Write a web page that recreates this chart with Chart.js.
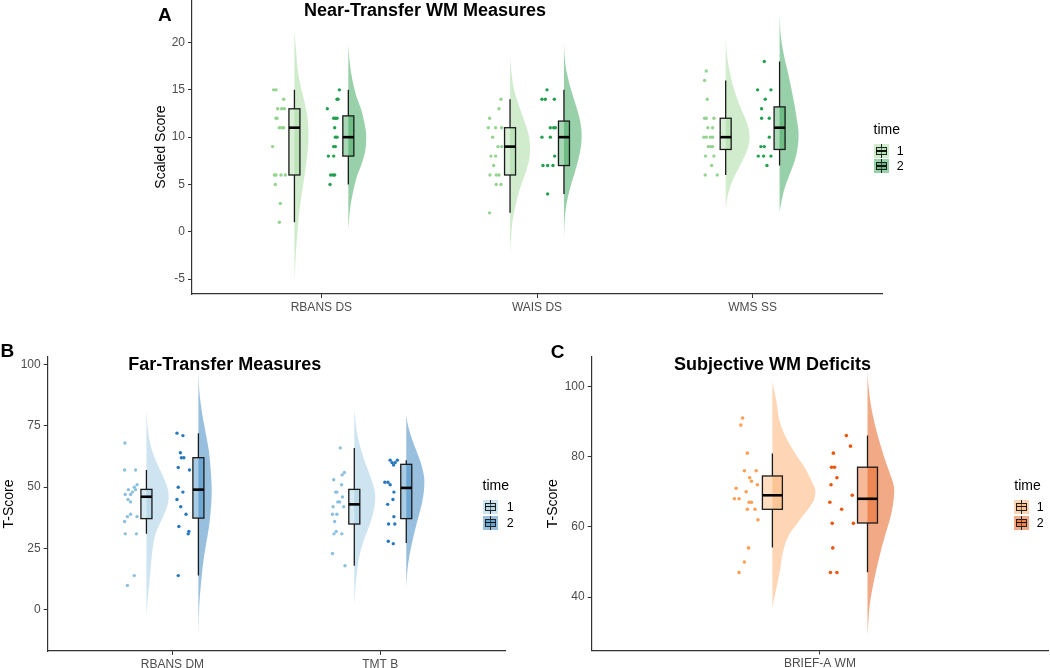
<!DOCTYPE html>
<html><head><meta charset="utf-8">
<script src="https://cdn.jsdelivr.net/npm/chart.js@4.4.1/dist/chart.umd.min.js"></script>
<style>
body{margin:0;width:1050px;height:668px;background:#fff;position:relative;overflow:hidden;font-family:"Liberation Sans",Arial,sans-serif;}
canvas{position:absolute;}
.t{position:absolute;white-space:nowrap;line-height:1;color:#000;}
.b{font-weight:bold;}
.key{position:absolute;width:15px;height:14px;}
.key .w{position:absolute;left:7px;top:0;width:1.2px;height:14px;background:#222;}
.key .bx{position:absolute;left:2px;top:3px;width:9px;height:6px;border:1px solid #222;}
.key .m{position:absolute;left:2px;top:6.3px;width:11px;height:1.5px;background:#111;}
</style></head><body>
<canvas id="cA" width="1050" height="345" style="left:0;top:-20px"></canvas>
<canvas id="cB" width="530" height="340" style="left:0;top:336.7px"></canvas>
<canvas id="cC" width="520" height="340" style="left:530px;top:337.3px"></canvas>
<div id="txt"></div>
<script>
// ---------------- DATA ----------------
const catsA = ['RBANS DS', 'WAIS DS', 'WMS SS'];
const catsB = ['RBANS DM', 'TMT B'];
const catsC = ['BRIEF-A WM'];
const ticksA = [-5, 0, 5, 10, 15, 20];
const ticksB = [0, 25, 50, 75, 100];
const ticksC = [40, 60, 80, 100];
const timeLevels = ['1', '2'];

// raw scores (points) and their horizontal jitter (-1..1)
const a_rbans_1 = [15,15,14,13,13,13,12,12,11,11,11,9,6,6,6,6,5,3,1];
const a_rbans_1j = [-0.85,-0.5,0.65,-0.25,0.35,0.75,-0.5,-0.35,0,0.35,0.65,-1,-0.75,-0.5,0.25,0.9,-0.6,0.15,0];
const a_rbans_2 = [15,14,14,13,12,12,12,11,10,10,9,9,8,8,6,6,6,5];
const a_rbans_2j = [0.95,0.6,0.75,-0.85,0.1,0.35,0.6,0.25,0.35,0.6,0.1,0.35,-0.7,0.1,-0.35,0,0.25,-0.45];
const a_wais_1 = [14,13,12,11,11,11,10,9,9,8,8,7,6,6,6,5,5,2];
const a_wais_1j = [0.9,0.6,-0.8,-1,0.1,1,-0.35,0.45,1,-0.6,0.1,-0.2,-0.75,0.2,0.6,0.2,0.9,-0.8];
const a_wais_2 = [15,14,14,14,11,11,11,10,10,8,7,7,7,4];
const a_wais_2j = [-0.25,-1,-0.5,0.85,0.25,0.75,1,-1,0.25,0.9,-0.85,-0.15,0.65,-0.15];
const a_wms_1 = [17,16,14,12,12,12,11,11,10,10,10,10,9,9,9,8,8,7,6,6];
const a_wms_1j = [-0.65,-0.9,-0.5,-0.9,-0.65,0.5,-0.4,0.3,-1,-0.65,0,0.3,-0.35,0,0.3,-0.75,0.5,0.15,-0.8,1];
const a_wms_2 = [18,15,15,14,13,12,12,10,9,9,8,8,8,7];
const a_wms_2j = [0,-1,1,0.15,-0.4,-0.4,0.75,0.75,-0.5,0,-0.9,-0.1,1,0.4];
const b_rdm_1 = [68,57,57,51,50,49,49,48,47,47,45,44,39,38,38,36,31,31,14,10];
const b_rdm_1j = [-0.95,-1,0.75,1,0.55,-0.4,0.75,0.25,-0.9,-0.05,-0.45,-0.05,-0.05,-0.55,1,-1,-0.9,0.9,0.55,-0.55];
const b_rdm_2 = [72,71,64,62,62,58,57,50,48,45,42,39,34,32,31,14];
const b_rdm_2j = [-1,-0.05,-0.45,-0.3,0.1,-0.8,1,-0.8,-0.05,-1,-0.4,0.45,-0.7,0.9,0.8,-0.8];
const b_tmt_1 = [66,56,55,53,51,48,48,46,44,44,42,42,39,39,36,32,31,31,23,18];
const b_tmt_1j = [0.25,0.9,0.55,-0.8,0.45,-0.5,-0.3,0.6,-0.15,0.15,-0.9,0.8,-1,-0.3,-0.65,-0.4,-0.75,0.5,-1,1];
const b_tmt_2 = [61,61,60,60,59,52,52,51,48,45,43,38,35,35,28,27];
const b_tmt_2j = [-0.15,1,0.15,0.65,0.4,-1,-0.5,-0.15,0.45,0.3,-0.55,0.45,-0.4,0.6,-0.45,0.35];
const c_brief_1 = [91,89,81,76,76,74,73,72,71,70,68,68,67,67,65,65,62,54,50,47];
const c_brief_1j = [-0.3,-0.45,0.1,-0.15,0.85,0.3,0.45,0.95,-0.85,0,-1,-0.6,0.25,0.45,0.1,0.75,1,0.2,-0.15,-0.6];
const c_brief_2 = [86,83,81,77,77,74,72,69,67,65,61,61,54,47,47];
const c_brief_2j = [0.4,0.75,-0.7,-0.85,-0.6,-0.4,-0.9,0.9,-1,0,-0.8,1,-0.75,-0.95,-0.4];

// box stats: [lower whisker, Q1, median, Q3, upper whisker]
const a_rbans_1b = [1, 6, 11, 13, 15];
const a_rbans_2b = [5, 8, 10, 12.25, 15];
const a_wais_1b = [2, 6, 9, 11, 14];
const a_wais_2b = [4, 7, 10, 11.7, 15];
const a_wms_1b = [6, 8.7, 10, 12, 16];
const a_wms_2b = [7, 8.7, 11, 13.2, 18];
const b_rdm_1b = [31, 37.2, 46.1, 49.1, 57];
const b_rdm_2b = [14, 37.4, 49, 62, 72];
const b_tmt_1b = [18, 35, 43, 49.1, 66];
const b_tmt_2b = [27.3, 37.2, 49.7, 59.3, 61];
const c_brief_1b = [54.1, 65, 69, 74.5, 80.9];
const c_brief_2b = [47.1, 61.1, 68, 77, 86];

// half-violin density profiles: score values and relative density
const a_rbans_1vy = [21.1,19.2,17.4,15.7,13.9,12.1,10.4,8.6,6.9,5.1,3.3,1.6,-0.2,-1.9,-3.7,-5.3];
const a_rbans_1vd = [0,0.12,0.21,0.40,0.69,0.93,1,0.95,0.81,0.64,0.45,0.31,0.21,0.12,0.05,0];
const a_rbans_2vy = [19.8,18,16.3,14.5,12.7,11,10,8.6,7.2,5.8,4.1,2.5,1,0.2];
const a_rbans_2vd = [0,0.07,0.2,0.42,0.75,0.95,1,0.95,0.75,0.47,0.25,0.1,0.03,0];
const a_wais_1vy = [18.6,17,15,13.5,12,10.5,9,7.5,6,4.5,3,1.5,0,-1.5,-2.6];
const a_wais_1vd = [0,0.06,0.2,0.42,0.66,0.9,1,0.94,0.74,0.48,0.3,0.15,0.07,0.02,0];
const a_wais_2vy = [20,18,16.5,15,13.5,12,10.5,9,7.5,6,4.5,3,1.5,-1];
const a_wais_2vd = [0,0.06,0.2,0.4,0.65,0.88,1,0.96,0.8,0.57,0.33,0.15,0.05,0];
const a_wms_1vy = [20.6,19,17.5,16,14.5,13,11.5,10,8.5,7,5.5,4,2.4];
const a_wms_1vd = [0,0.04,0.12,0.25,0.42,0.64,0.89,1,0.88,0.6,0.3,0.1,0];
const a_wms_2vy = [22.9,21,19.5,18,16.5,15,13.5,12,10.5,9,7.5,6,4.5,3,2.1];
const a_wms_2vd = [0,0.05,0.15,0.3,0.48,0.63,0.78,0.9,1,0.96,0.8,0.52,0.25,0.08,0];
const b_rdm_1vy = [81.3,75,70,65,60,55,50,46,42,38,34,30,25,20,15,10,5,0,-3.5];
const b_rdm_1vd = [0,0.05,0.12,0.25,0.46,0.72,0.94,1,0.93,0.75,0.54,0.38,0.28,0.22,0.17,0.12,0.06,0.02,0];
const b_rdm_2vy = [96.9,90,85,80,75,70,65,60,55,50,45,40,35,30,25,20,15,10,5,0,-5,-11];
const b_rdm_2vd = [0,0.06,0.15,0.28,0.45,0.62,0.78,0.88,0.95,1,0.98,0.92,0.82,0.68,0.52,0.38,0.27,0.18,0.1,0.05,0.02,0];
const b_tmt_1vy = [82,75,70,65,60,55,50,46,42,38,34,30,25,20,15,10,5,1.9];
const b_tmt_1vd = [0,0.08,0.18,0.33,0.52,0.74,0.93,1,0.96,0.85,0.7,0.52,0.33,0.2,0.12,0.06,0.02,0];
const b_tmt_2vy = [79.2,75,70,65,60,55,52,48,44,40,35,30,25,20,15,8.7];
const b_tmt_2vd = [0,0.1,0.3,0.55,0.8,0.97,1,0.97,0.88,0.75,0.57,0.4,0.25,0.13,0.05,0];
const c_brief_1vy = [101.4,95.3,90.5,85.8,81,76.3,71.5,69.6,66.8,62,57.3,52.5,47.8,43,38.3,36.6];
const c_brief_1vd = [0,0.1,0.16,0.3,0.53,0.78,0.97,1,0.93,0.64,0.37,0.24,0.18,0.1,0.02,0];
const c_brief_2vy = [104.3,100,95,90,85,80,75,71,66,61,56,51,46,41,36,28.8];
const c_brief_2vd = [0,0.04,0.12,0.25,0.42,0.62,0.85,1,0.95,0.8,0.6,0.43,0.28,0.15,0.06,0];

// ---------------- BUILD ----------------
const FONT = '"Liberation Sans", Arial, sans-serif';
Chart.defaults.font.family = FONT;

function rgba(hex, a) {
  const n = parseInt(hex.slice(1), 16);
  return `rgba(${(n >> 16) & 255},${(n >> 8) & 255},${n & 255},${a})`;
}
function grp(cat, t, pts, jit, box, vy, vd, vw) { return { cat, t, pts, jit, box, vy, vd, vw }; }

const panels = [
  { id: 'cA', cats: catsA, ticks: ticksA, yTitle: 'Scaled Score', xmin: 0.4, xmax: 3.6, ymin: -6.58, ymax: 24.5,
    pad: { left: 140, right: 168, top: 20, bottom: 0 }, yw: 52, xh: 31, titlePad: 12.3,
    vOff: 0.125, boxW: 0.051, ptC: [-0.195, 0.054], ptHW: 0.031, ptR: 1.7,
    colV: ['#a1d99b', '#31a354'], colP: ['#93d48e', '#23a04f'],
    groups: [
      grp(1, 0, a_rbans_1, a_rbans_1j, a_rbans_1b, a_rbans_1vy, a_rbans_1vd, 0.065),
      grp(1, 1, a_rbans_2, a_rbans_2j, a_rbans_2b, a_rbans_2vy, a_rbans_2vd, 0.083),
      grp(2, 0, a_wais_1, a_wais_1j, a_wais_1b, a_wais_1vy, a_wais_1vd, 0.093),
      grp(2, 1, a_wais_2, a_wais_2j, a_wais_2b, a_wais_2vy, a_wais_2vd, 0.082),
      grp(3, 0, a_wms_1, a_wms_1j, a_wms_1b, a_wms_1vy, a_wms_1vd, 0.111),
      grp(3, 1, a_wms_2, a_wms_2j, a_wms_2b, a_wms_2vy, a_wms_2vd, 0.088)
    ] },
  { id: 'cB', cats: catsB, ticks: ticksB, yTitle: 'T-Score', xmin: 0.4, xmax: 2.6, ymin: -16.7, ymax: 103,
    pad: { left: 0, right: 25, top: 20, bottom: 0 }, yw: 47.7, xh: 26, titlePad: 0.3,
    vOff: 0.125, boxW: 0.053, ptC: [-0.2, 0.052], ptHW: 0.03, ptR: 1.7,
    colV: ['#9ecae1', '#3182bd'], colP: ['#8cc0e0', '#2878bd'],
    groups: [
      grp(1, 0, b_rdm_1, b_rdm_1j, b_rdm_1b, b_rdm_1vy, b_rdm_1vd, 0.107),
      grp(1, 1, b_rdm_2, b_rdm_2j, b_rdm_2b, b_rdm_2vy, b_rdm_2vd, 0.064),
      grp(2, 0, b_tmt_1, b_tmt_1j, b_tmt_1b, b_tmt_1vy, b_tmt_1vd, 0.101),
      grp(2, 1, b_tmt_2, b_tmt_2j, b_tmt_2b, b_tmt_2vy, b_tmt_2vd, 0.087)
    ] },
  { id: 'cC', cats: catsC, ticks: ticksC, yTitle: 'T-Score', xmin: 0.4, xmax: 1.6, ymin: 24.8, ymax: 108.4,
    pad: { left: 0, right: 0.7, top: 20, bottom: 0 }, yw: 61.7, xh: 26.6, titlePad: 14.9,
    vOff: 0.125, boxW: 0.0525, ptC: [-0.194, 0.057], ptHW: 0.031, ptR: 1.8,
    colV: ['#fdae6b', '#e6550d'], colP: ['#fd9f55', '#ec560e'],
    groups: [
      grp(1, 0, c_brief_1, c_brief_1j, c_brief_1b, c_brief_1vy, c_brief_1vd, 0.113),
      grp(1, 1, c_brief_2, c_brief_2j, c_brief_2b, c_brief_2vy, c_brief_2vd, 0.070)
    ] }
];

function smoothPath(ctx, P) {
  ctx.moveTo(P[0][0], P[0][1]);
  for (let i = 0; i < P.length - 1; i++) {
    const p0 = P[Math.max(i - 1, 0)], p1 = P[i], p2 = P[i + 1], p3 = P[Math.min(i + 2, P.length - 1)];
    const c1 = [p1[0] + (p2[0] - p0[0]) / 6, p1[1] + (p2[1] - p0[1]) / 6];
    const c2 = [p2[0] - (p3[0] - p1[0]) / 6, p2[1] - (p3[1] - p1[1]) / 6];
    ctx.bezierCurveTo(c1[0], c1[1], c2[0], c2[1], p2[0], p2[1]);
  }
}

const raincloud = {
  id: 'raincloud',
  beforeDatasetsDraw(chart) {
    const cfg = chart.options.plugins.raincloud; if (!cfg) return;
    const xs = chart.scales.x, ys = chart.scales.y, ctx = chart.ctx, ca = chart.chartArea;
    ctx.save();
    ctx.beginPath(); ctx.rect(ca.left, ca.top, ca.right - ca.left, ca.bottom - ca.top); ctx.clip();
    cfg.groups.forEach(g => {
      const base = g.cat + (g.t === 0 ? -cfg.vOff : cfg.vOff);
      const P = g.vy.map((v, i) => [xs.getPixelForValue(base + g.vd[i] * g.vw), ys.getPixelForValue(v)]);
      ctx.beginPath();
      smoothPath(ctx, P);
      ctx.lineTo(xs.getPixelForValue(base), ys.getPixelForValue(g.vy[0]));
      ctx.closePath();
      ctx.fillStyle = rgba(cfg.colV[g.t], 0.5);
      ctx.fill();
    });
    ctx.restore();
  },
  afterDatasetsDraw(chart) {
    const cfg = chart.options.plugins.raincloud; if (!cfg) return;
    const xs = chart.scales.x, ys = chart.scales.y, ctx = chart.ctx;
    ctx.save();
    cfg.groups.forEach(g => {
      const c = g.cat + (g.t === 0 ? -cfg.vOff : cfg.vOff);
      const xl = xs.getPixelForValue(c - cfg.boxW / 2), xr = xs.getPixelForValue(c + cfg.boxW / 2);
      const xc = xs.getPixelForValue(c);
      const [lo, q1, md, q3, hi] = g.box.map(v => ys.getPixelForValue(v));
      ctx.strokeStyle = '#1a1a1a';
      ctx.lineWidth = 1.3;
      ctx.beginPath(); ctx.moveTo(xc, hi); ctx.lineTo(xc, q3); ctx.moveTo(xc, q1); ctx.lineTo(xc, lo); ctx.stroke();
      ctx.fillStyle = rgba(cfg.colV[g.t], 0.42);
      ctx.fillRect(xl, q3, xr - xl, q1 - q3);
      ctx.strokeRect(xl, q3, xr - xl, q1 - q3);
      ctx.lineWidth = 2.6; ctx.strokeStyle = '#000';
      ctx.beginPath(); ctx.moveTo(xl, md); ctx.lineTo(xr, md); ctx.stroke();
    });
    ctx.restore();
  }
};

panels.forEach(p => {
  const datasets = [];
  p.groups.forEach(g => {
    const cx = g.cat + p.ptC[g.t];
    datasets.push({
      type: 'scatter',
      data: g.pts.map((v, i) => ({ x: cx + g.jit[i] * p.ptHW, y: v })),
      backgroundColor: p.colP[g.t], borderWidth: 0, pointRadius: p.ptR, pointHoverRadius: p.ptR
    });
  });
  const tickFont = { size: 12, family: FONT };
  new Chart(document.getElementById(p.id), {
    type: 'scatter',
    data: { datasets },
    plugins: [raincloud],
    options: {
      responsive: false, animation: false, events: [],
      layout: { padding: p.pad },
      plugins: {
        legend: { display: false }, tooltip: { enabled: false },
        raincloud: { groups: p.groups, vOff: p.vOff, boxW: p.boxW, colV: p.colV }
      },
      scales: {
        x: {
          type: 'linear', min: p.xmin, max: p.xmax,
          afterBuildTicks: s => { s.ticks = p.cats.map((c, i) => ({ value: i + 1 })); },
          afterFit: s => { s.height = p.xh; },
          ticks: { callback: (v, i) => p.cats[i], font: tickFont, color: '#4d4d4d', padding: 2, maxRotation: 0, autoSkip: false },
          grid: { display: true, drawOnChartArea: false, drawTicks: true, tickLength: 4, tickColor: '#333', color: '#333' },
          border: { display: true, color: '#333', width: 1.2 }
        },
        y: {
          type: 'linear', min: p.ymin, max: p.ymax,
          afterBuildTicks: s => { s.ticks = p.ticks.map(v => ({ value: v })); },
          afterFit: s => { s.width = p.yw; },
          ticks: { callback: v => String(v), font: tickFont, color: '#4d4d4d', padding: 3 },
          grid: { display: true, drawOnChartArea: false, drawTicks: true, tickLength: 4, tickColor: '#333', color: '#333' },
          border: { display: true, color: '#333', width: 1.2 },
          title: { display: true, text: p.yTitle, color: '#000', font: { size: 14, family: FONT }, padding: { top: p.titlePad, bottom: 0 } }
        }
      }
    }
  });
});

// ---------------- TEXT: titles, panel letters, legends ----------------
const txt = document.getElementById('txt');
function addText(s, left, top, size, bold) {
  const d = document.createElement('div');
  d.className = 't' + (bold ? ' b' : '');
  d.style.left = left + 'px'; d.style.top = top + 'px'; d.style.fontSize = size + 'px';
  d.textContent = s; txt.appendChild(d);
}
addText('Near-Transfer WM Measures', 304, 1.2, 18, true);
addText('Far-Transfer Measures', 128.3, 355.2, 18, true);
addText('Subjective WM Deficits', 674, 355.2, 18, true);
addText('A', 158, 5.2, 19, true);
addText('B', 0.5, 341.4, 19, true);
addText('C', 550.7, 341.7, 19, true);

function addLegend(x, titleCy, keyCys, labelX, cols) {
  addText('time', x, titleCy - 0.52 * 14, 14, false);
  timeLevels.forEach((lv, i) => {
    const k = document.createElement('div');
    k.className = 'key';
    k.style.left = x + 'px'; k.style.top = (keyCys[i] - 7) + 'px';
    k.style.background = rgba(cols[i], 0.5);
    k.innerHTML = '<div class="w"></div><div class="bx" style="background:' + rgba(cols[i], 0.45) + '"></div><div class="m"></div>';
    txt.appendChild(k);
    addText(lv, labelX, keyCys[i] - 0.49 * 12.5, 12.5, false);
  });
}
addLegend(873.5, 129, [151, 166], 896.7, panels[0].colV);
addLegend(482.5, 485.7, [506.7, 522.7], 506.7, panels[1].colV);
addLegend(1014.3, 485.7, [506.7, 522.7], 1036.7, panels[2].colV);
</script>
</body></html>
